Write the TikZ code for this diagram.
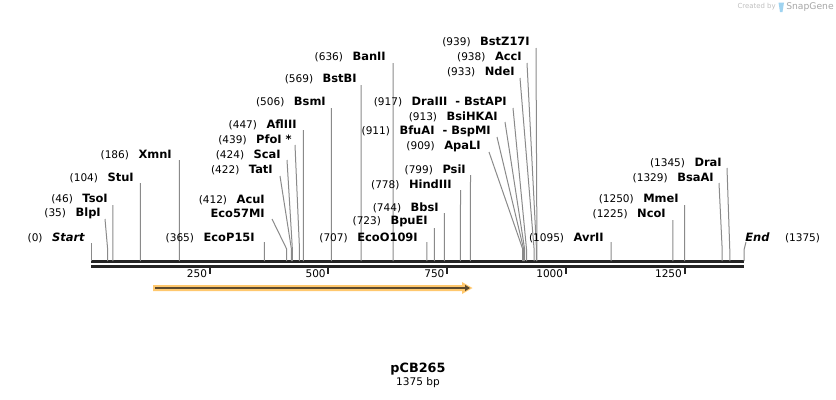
\documentclass[tikz,border=0pt]{standalone}
\usepackage{fontspec}
\setmainfont{DejaVu Sans}
\usetikzlibrary{positioning,arrows.meta}
\newcommand{\bpscale}{0.47491}
\definecolor{cutgray}{HTML}{8A8A8A}
\definecolor{bargray}{HTML}{242424}
\definecolor{featfill}{HTML}{FFC86E}
\definecolor{featline}{HTML}{5C4A2E}
\definecolor{logoblue}{HTML}{9FD3F0}
\tikzset{
  site/.style={inner sep=0pt, font=\fontsize{8.6}{10}\selectfont\bfseries},
  num/.style={inner sep=0pt, font=\fontsize{7.9}{9}\selectfont},
  cut/.style={cutgray, line width=0.75pt},
}

\begin{document}
\begin{tikzpicture}[x=0.75pt,y=-0.75pt]
\useasboundingbox (0,0) rectangle (836,400);

    %% the sequence bar, two rules
    \coordinate (bar0) at (91,261.5);
    \coordinate (bar1) at (744,261.5);
    \coordinate (bar2) at (91,266.5);
    \coordinate (bar3) at (744,266.5);
    \draw[bargray, line width=2.25pt] (bar0) -- (bar1);
    \draw[bargray, line width=2.25pt] (bar2) -- (bar3);

    %% ruler ticks under the bar
    \foreach \t in {250,500,750,1000,1250}
    { \coordinate (tk\t) at ({91+\t*\bpscale},267);
      \coordinate (tb\t) at ({91+\t*\bpscale},274);
      \draw[bargray, line width=1.5pt] (tk\t) -- (tb\t);
      \node (tl\t) at ({88.5+\t*\bpscale},274) [num, anchor=east] {\t};}

    %% cut sites: position / line top / label end / label text
    \foreach \p/\tx/\ty/\ex/\ny/\txt in {
      35/105/219/101/213/BlpI, 46/112.8/205/108/198/TsoI,
      104/140.4/183/134/177/StuI, 186/179.3/160/172/154/XmnI,
      365/264.3/242/255/237/EcoP15I, 422/280/176/273/169/TatI,
      424/287/160/281/154/ScaI, 439/295/145/292/139/PfoI *,
      447/303.3/130/297/124/AflIII, 506/331.3/108/326/101/BsmI,
      569/361.2/85/357/78/BstBI, 636/393/63/386/56/BanII,
      707/426.8/242/418/237/EcoO109I, 723/434.4/228/428/222/BpuEI,
      744/444.3/213/439/207/BbsI, 778/460.5/190/452/184/HindIII,
      799/470.5/175/466/169/PsiI, 909/489/152/481/147/ApaLI,
      911/497/137/491/131/BfuAI~~- BspMI, 913/505/122/498/116/BsiHKAI,
      917/513/108/507/101/DraIII~~- BstAPI, 933/520/78/515/71/NdeI,
      938/527/63/522/56/AccI, 939/536/48/530/41/BstZ17I,
      1095/611/242/604/237/AvrII, 1225/672.8/220/666/213/NcoI,
      1250/684.6/205/679/198/MmeI, 1329/719/183/714/177/BsaAI,
      1345/727/168/722/162/DraI}
    { \node (n\p) at (\ex,\ny) [site, anchor=east] {\txt};
      \node (p\p) [num, base left=6.75pt of n\p] {(\p)};
      \coordinate (t\p) at (\tx,\ty);
      \coordinate (k\p) at ({91+\p*\bpscale},249);
      \coordinate (b\p) at ({91+\p*\bpscale},261);
      \draw[cut] (t\p) -- (k\p) -- (b\p);}

    %% AcuI shares its site with Eco57MI
    \node (n412) at (265,199) [site, anchor=east] {AcuI};
    \node (m412) at (265,213) [site, anchor=east] {Eco57MI};
    \node (p412) [num, base left=6.75pt of n412] {(412)};
    \coordinate (t412) at (272,219);
    \coordinate (k412) at ({91+412*\bpscale},249);
    \coordinate (b412) at ({91+412*\bpscale},261);
    \draw[cut] (t412) -- (k412) -- (b412);

    %% ends of the sequence
    \node (nstart) at (85,237) [site, anchor=east] {\itshape Start};
    \node (pstart) [num, base left=6.75pt of nstart] {(0)};
    \coordinate (tstart) at (91,243);
    \coordinate (bstart) at (91,261);
    \draw[cut] (tstart) -- (bstart);
    \node (nend) at (745,237) [site, anchor=west] {\itshape End};
    \node (pend) [num, base right=11.25pt of nend] {(1375)};
    \coordinate (tend) at (746,242);
    \coordinate (kend) at (744,250);
    \coordinate (bend) at (744,261);
    \draw[cut] (tend) -- (kend) -- (bend);

    %% feature arrow
    \fill[featfill] (153,285) -- (462,285) -- (462,282) -- (472.5,288)
      -- (462,294) -- (462,291) -- (153,291) -- cycle;
    \coordinate (f0) at (155,288);
    \coordinate (f1) at (470,288);
    \draw[featline, line width=1.5pt, -{Triangle[length=3.75pt,width=4.5pt]}] (f0) -- (f1);

    %% name and length
    \node (title) at (418,369) [font=\fontsize{9.6}{11}\selectfont\bfseries] {pCB265};
    \node (len) at (418,383) [num] {1375 bp};

    %% watermark
    \node (wm) at (776,7) [anchor=east, inner sep=0pt, text=black!25,
      font=\fontsize{5.2}{6}\selectfont] {Created by};
    \fill[logoblue] (778.5,2.5) -- (784,2.5) -- (782.5,12) -- (780,12) -- cycle;
    \node (sg) at (786,7) [anchor=west, inner sep=0pt, text=black!35,
      font=\fontsize{6.9}{8}\selectfont] {SnapGene};

\end{tikzpicture}
\end{document}
